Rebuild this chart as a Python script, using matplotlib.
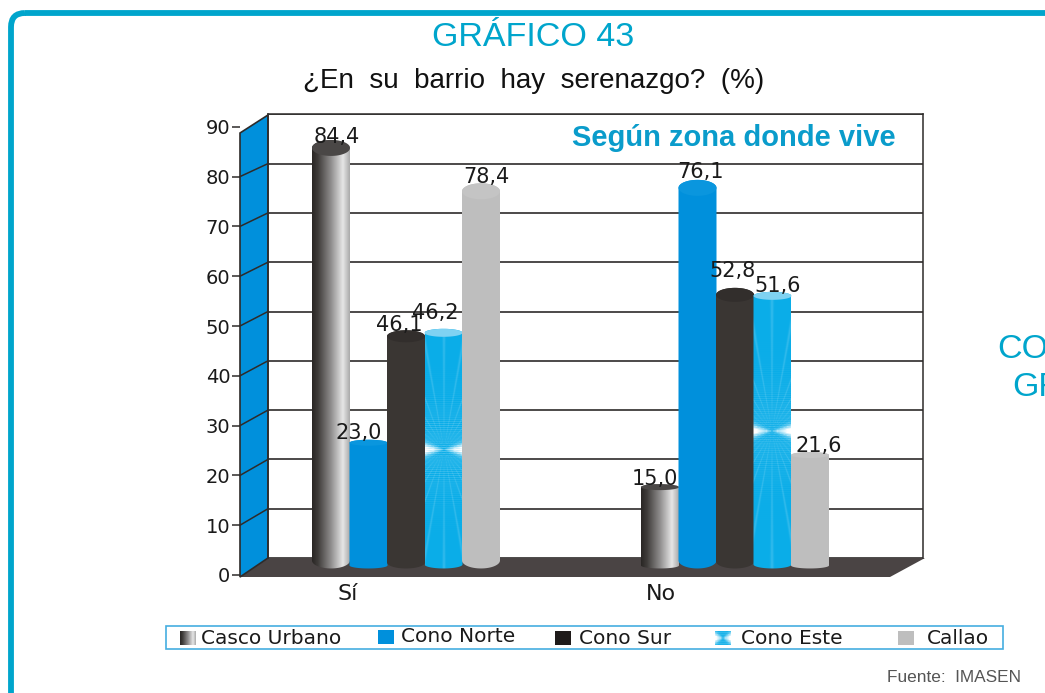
import matplotlib
matplotlib.use("Agg")
import matplotlib.pyplot as plt
import numpy as np
from matplotlib.patches import FancyBboxPatch, PathPatch, Polygon, Rectangle
from matplotlib.path import Path

W, H = 1045, 693
NARROW = "Liberation Sans"
WIDE = "DejaVu Sans"

# Datos
zones = ["Casco Urbano", "Cono Norte", "Cono Sur", "Cono Este", "Callao"]
groups = ["Sí", "No"]
si_labels = ["84,4", "23,0", "46,1", "46,2", "78,4"]
no_labels = ["15,0", "76,1", "52,8", "51,6", "21,6"]
# alturas (no siempre coinciden con la etiqueta impresa)
si_heights = [84.8, 25.0, 46.6, 47.3, 76.0]
no_heights = [16.0, 76.7, 55.0, 54.8, 22.5]
y_ticks = [0, 10, 20, 30, 40, 50, 60, 70, 80, 90]

# Estilo
BLUE = "#0090DC"
CYAN = "#00A5CC"
DARK = "#3A3633"
GREY = "#BEBEBE"
FLOOR = "#4A4444"
LINE = "#2E2B2A"
si_ry = [8, 3, 6, 4, 8]
no_ry = [3, 8, 7, 4, 3]
si_label_off = [(6, 11), (-10, 10), (-7, 11), (-8, 20), (5, 14)]
no_label_off = [(-5, 8), (3, 16), (-2, 24), (5, 10), (9, 9)]
BAR_W = 38
PITCH = 37.5
PX_PER_UNIT = 4.93
FRONT_PX = 4.98
X_SI, X_NO = 406, 735
BASE = 566


def rect_px(x0, y_top, x1, y_bottom):
    """Posición de ejes en fracción de figura a partir de píxeles."""
    return [x0 / W, 1 - y_bottom / H, (x1 - x0) / W, (y_bottom - y_top) / H]


def hgrad(stops):
    xs = np.linspace(0, 1, 64)
    pos = [s[0] for s in stops]
    rgb = np.array([matplotlib.colors.to_rgb(s[1]) for s in stops])
    return np.stack([np.interp(xs, pos, rgb[:, i]) for i in range(3)], axis=-1)[None, :, :]


CASCO = hgrad([(0, "#2A2725"), (0.15, "#3E3B39"), (0.5, "#8F8D8D"),
               (0.82, "#E6E6E6"), (1, "#ABABAB")])


def este_image(h_px):
    """Textura azul con rayos y destello en el centro."""
    ny = max(int(h_px), 10)
    x = np.linspace(-19, 19, 76)
    y = np.linspace(-h_px / 2, h_px / 2, ny)
    xx, yy = np.meshgrid(x, y)
    ang = np.arctan2(np.abs(xx) + 0.01, yy)
    rays = np.clip(np.cos(ang * 34), 0, 1) ** 10
    near = np.exp(-(yy / 45) ** 2)
    flash = np.exp(-(yy / (0.6 + 0.28 * np.abs(xx))) ** 2) * (np.abs(xx) / 19) ** 0.6
    base = np.array(matplotlib.colors.to_rgb("#0AADE8"))
    out = np.ones(xx.shape + (3,)) * base
    amount = np.clip(0.16 * rays + 0.2 * near * (0.5 + 0.5 * np.cos(yy * 3)) + flash, 0, 1)
    return out + (1 - out) * amount[..., None]


def cylinder(x_c, width, height, ry_units, bottom):
    t = np.linspace(0, np.pi, 40)
    top_x = x_c + width / 2 * np.cos(t)
    top_y = height + ry_units * np.sin(t)
    bot_x = x_c - width / 2 * np.cos(t)
    bot_y = bottom - ry_units * np.sin(t)
    xy = np.vstack([np.column_stack([top_x, top_y]), np.column_stack([bot_x, bot_y])])
    return Path(np.vstack([xy, xy[0]]), closed=True)


fig = plt.figure(figsize=(W / 100, H / 100), dpi=100, facecolor="white")

# Capa de fondo en píxeles: marco, pared, piso, leyenda y textos
bg = fig.add_axes([0, 0, 1, 1], zorder=0)
bg.set_xlim(0, W)
bg.set_ylim(H, 0)
bg.axis("off")
bg.add_patch(FancyBboxPatch((11, 13), 1200, 900, boxstyle="round,pad=0,rounding_size=14",
                            fc="none", ec=CYAN, lw=4.2))
bg.add_patch(Polygon([(240, 577), (268, 558), (925, 558), (890, 577)], fc=FLOOR, ec="none"))
bg.add_patch(Polygon([(240, 133), (268, 115), (268, 558), (240, 577)], fc=BLUE, ec=LINE, lw=1.2))

bg.text(533, 38, "GRÁFICO 43", color=CYAN, family=NARROW, fontsize=24.5, ha="center", va="center")
bg.text(534, 81, "¿En  su  barrio  hay  serenazgo?  (%)", color="#111111", family=NARROW,
        fontsize=20, ha="center", va="center")
bg.text(997, 349, "COM", color=CYAN, family=NARROW, fontsize=24.5, va="center")
bg.text(1012, 387, "GR", color=CYAN, family=NARROW, fontsize=24.5, va="center")
bg.text(1021, 677, "Fuente:  IMASEN", color="#555555", family=NARROW, fontsize=12.4,
        ha="right", va="center")

# Leyenda
bg.add_patch(Rectangle((165.5, 625.5), 837, 23, fc="white", ec="#45AEE0", lw=1.2))
legend_x = [180, 378, 555, 715, 898]
legend_text_x = [201, 401, 579, 741, 927]
legend_y = [638, 637, 638, 638, 638]
for i, zone in enumerate(zones):
    x0 = legend_x[i]
    ext = (x0, x0 + 16, legend_y[i] + 7, legend_y[i] - 7)
    if i == 0:
        bg.imshow(CASCO, extent=ext, aspect="auto", zorder=3)
    elif i == 3:
        bg.imshow(este_image(14), extent=ext, aspect="auto", zorder=3)
    else:
        color = {1: BLUE, 2: "#1F1B1A", 4: GREY}[i]
        bg.add_patch(Rectangle((x0, legend_y[i] - 7), 16, 14, fc=color, ec="none", zorder=3))
    bg.text(legend_text_x[i], legend_y[i], zone, family=WIDE, fontsize=14.5, color="#1A1A1A",
            va="center", zorder=3)
bg.set_xlim(0, W)
bg.set_ylim(H, 0)

# Plano trasero: cuadrícula
back = fig.add_axes(rect_px(268, 558 - 90 * PX_PER_UNIT, 923, 558), zorder=1)
back.patch.set_alpha(0)
back.set_ylim(0, 90)
back.set_xlim(0, 1)
back.set_yticks(y_ticks)
back.set_xticks([])
back.tick_params(left=False, labelleft=False)
back.grid(axis="y", color=LINE, lw=1.2)
back.set_axisbelow(True)
for side in ("left", "top", "right"):
    back.spines[side].set_color(LINE)
    back.spines[side].set_linewidth(1.1)
back.spines["bottom"].set_visible(False)

# Plano frontal: eje de valores
front = fig.add_axes(rect_px(240, 575 - 90 * FRONT_PX, 925, 575), zorder=2)
front.patch.set_alpha(0)
front.set_ylim(0, 90)
front.set_xlim(0, 1)
front.set_xticks([])
front.set_yticks(y_ticks)
front.set_yticklabels([str(v) for v in y_ticks], family=WIDE, fontsize=14, color="#1A1A1A")
front.tick_params(axis="y", length=6, width=1.1, color=LINE, pad=1)
for spine in front.spines.values():
    spine.set_visible(False)
for v in y_ticks[1:-1]:
    # línea de la pared lateral, del frente hasta la cuadrícula
    back_v = (575 - (558 - v * PX_PER_UNIT)) / FRONT_PX
    front.plot([0, 28 / 685], [v, back_v], color=LINE, lw=1.1, clip_on=False)

# Plano de las barras
bars = fig.add_axes(rect_px(240, BASE - 95 * PX_PER_UNIT, 925, BASE + 3 * PX_PER_UNIT), zorder=3)
bars.patch.set_alpha(0)
bars.axis("off")
xlim = (240, 925)
ylim = (-3, 95)
bars.set_xlim(*xlim)
bars.set_ylim(*ylim)


def draw_group(center, heights, labels, ry_list, offsets):
    for i, (h, lab, ry, off) in enumerate(zip(heights, labels, ry_list, offsets)):
        xc = center + (i - 2) * PITCH
        ry_u = ry / PX_PER_UNIT
        path = cylinder(xc, BAR_W, h, ry_u, -0.5 + ry_u)
        z = 3 + i
        ext = (xc - BAR_W / 2, xc + BAR_W / 2, -1, h + ry_u)
        patch = PathPatch(path, fc="none", ec="none", transform=bars.transData)
        bars.add_patch(patch)
        if i == 0:
            im = bars.imshow(CASCO, extent=ext, aspect="auto", zorder=z)
            im.set_clip_path(patch)
            cap = "#4A4746"
        elif i == 3:
            im = bars.imshow(este_image(h * PX_PER_UNIT), extent=ext, aspect="auto", zorder=z)
            im.set_clip_path(patch)
            cap = "#7FD2F2"
        else:
            color = {1: BLUE, 2: DARK, 4: GREY}[i]
            bars.add_patch(PathPatch(path, fc=color, ec="none", zorder=z))
            cap = {1: "#0A96DE", 2: "#322E2C", 4: "#C4C4C4"}[i]
        t = np.linspace(0, 2 * np.pi, 60)
        bars.fill(xc + BAR_W / 2 * np.cos(t), h + ry_u * np.sin(t), color=cap, lw=0, zorder=z + 0.1)
        bars.text(xc + off[0], h + off[1] / PX_PER_UNIT, lab, family=WIDE, fontsize=15,
                  color="#1A1A1A", ha="center", va="center", zorder=20)


draw_group(X_SI, si_heights, si_labels, si_ry, si_label_off)
draw_group(X_NO, no_heights, no_labels, no_ry, no_label_off)
bars.set_xlim(*xlim)
bars.set_ylim(*ylim)

# Etiquetas de categoría y título interior
bg.text(348, 594, groups[0], family=WIDE, fontsize=16, color="#1A1A1A", ha="center", va="center")
bg.text(661, 594, groups[1], family=WIDE, fontsize=16, color="#1A1A1A", ha="center", va="center")
bars.text(734, 86.8, "Según zona donde vive", color="#0A9CCB", family="Liberation Sans",
          fontweight="bold", fontsize=21, ha="center", va="center", zorder=25)

fig.savefig("out.png", dpi=100)
